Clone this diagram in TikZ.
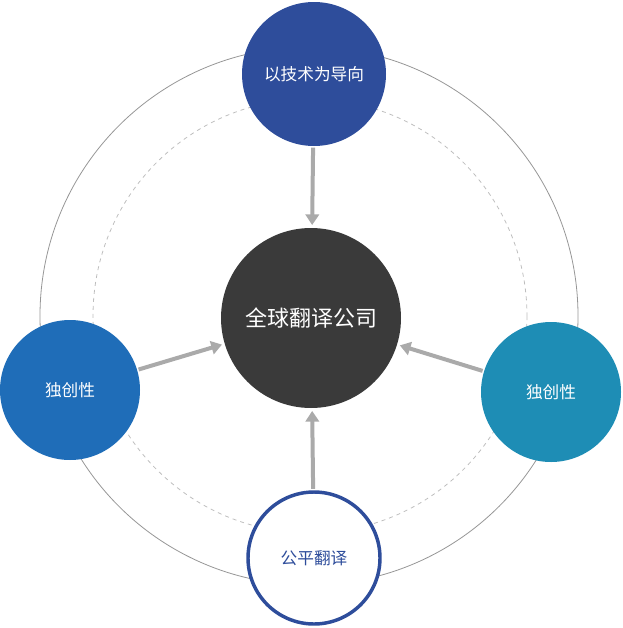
\documentclass[tikz,border=0pt]{standalone}
\usepackage{fontspec}
\setmainfont{Noto Sans CJK SC}
\usetikzlibrary{arrows.meta}
\definecolor{navy}{RGB}{46,77,155}
\definecolor{midblue}{RGB}{31,109,184}
\definecolor{teal}{RGB}{30,141,181}
\definecolor{core}{RGB}{58,58,58}
\definecolor{arrowgray}{RGB}{170,170,170}
\begin{document}
\begin{tikzpicture}[x=0.75pt,y=0.75pt,yscale=-1,xscale=1,
  ball/.style={circle,minimum size=#1*0.75pt,inner sep=0pt,text=white,font=\fontsize{12.5}{14}\selectfont},
  link/.style={draw=arrowgray,line width=3pt,-{Triangle[length=8pt,width=10pt]},shorten <=1pt,shorten >=2pt}]
\useasboundingbox (0,0) rectangle (622,628);

%Rings
\draw [color={rgb, 255:red, 150; green, 150; blue, 150 }, line width=0.6pt] (309,316) circle [radius=269];
\draw [color={rgb, 255:red, 190; green, 190; blue, 190 }, dashed, line width=0.6pt] (310,316) circle [radius=217];

% Circles
\node [ball=180, fill=core, font=\fontsize{16.5}{18}\selectfont] (core) at (311,318) {全球翻译公司};
\node [ball=144, fill=navy] (tech) at (314,74) {以技术为导向};
\node [ball=140, fill=midblue] (left) at (70,390) {独创性};
\node [ball=140, fill=teal] (right) at (551,392) {独创性};
\node [ball=132, fill=white, draw=navy, line width=2.6pt, text=navy] (fair) at (314,558) {公平翻译};

% Arrows
\draw [link] (tech) -- (core);
\draw [link] (fair) -- (core);
\draw [link] (left) -- (core);
\draw [link] (right) -- (core);
\end{tikzpicture}
\end{document}
